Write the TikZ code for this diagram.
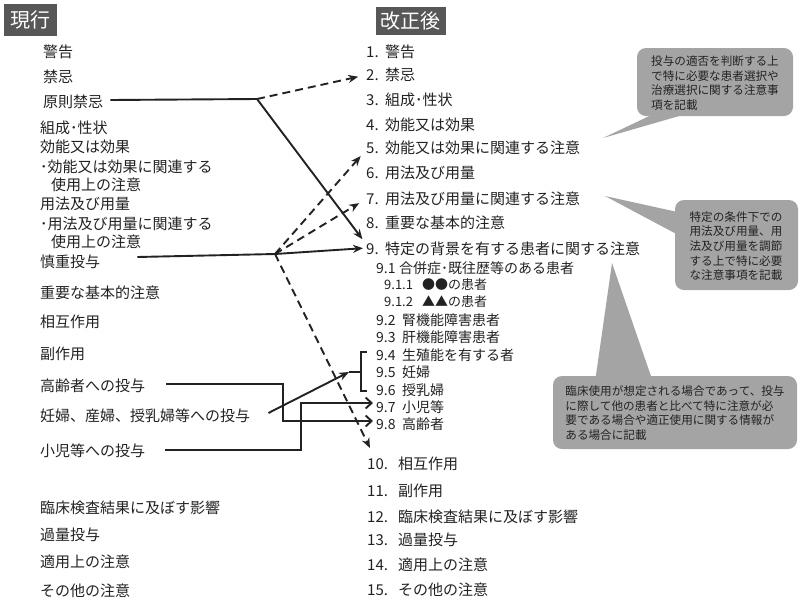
\documentclass[tikz,border=0pt]{standalone}
\usepackage{fontspec}
\setmainfont{Noto Sans CJK JP}
\usetikzlibrary{arrows.meta}
\definecolor{ink}{HTML}{222222}
\definecolor{hdr}{HTML}{575757}
\definecolor{callout}{HTML}{A4A4A4}
\begin{document}
\begin{tikzpicture}[x=1pt,y=-1pt,
  item/.style={anchor=west,inner sep=0pt,text=ink,font=\fontsize{15}{17}\selectfont},
  sub/.style={anchor=west,inner sep=0pt,text=ink,font=\fontsize{14}{16}\selectfont},
  subsub/.style={anchor=west,inner sep=0pt,text=ink,font=\fontsize{13}{15}\selectfont},
  hdrbox/.style={fill=hdr,text=white,font=\fontsize{20}{24}\selectfont,inner sep=0pt},
  conn/.style={line width=1.9pt,draw=ink},
  dconn/.style={conn,dash pattern=on 8pt off 5pt},
  tip/.style={-{Stealth[length=10pt,width=8pt]}},
  barb/.style={-{Straight Barb[length=6pt,width=11pt]}},
  btext/.style={text=ink,align=left,font=\fontsize{11.6}{14.6}\selectfont,inner sep=0pt}
]
\useasboundingbox (0,0) rectangle (800,603);

% headers
\node[hdrbox,minimum width=53pt,minimum height=32pt] (hL) at (30.5,20) {現行};
\node[hdrbox,minimum width=70pt,minimum height=28pt] (hR) at (410.5,21) {改正後};

% left column
\node[item] (L1) at (43,52) {警告};
\node[item] (L2) at (43,77) {禁忌};
\node[item] (L3) at (43,102) {原則禁忌};
\node[item] (L4) at (40,128) {組成･性状};
\node[item] (L5) at (40,147) {効能又は効果};
\node[item] (L6) at (40,167) {･効能又は効果に関連する};
\node[item] (L7) at (51,185) {使用上の注意};
\node[item] (L8) at (40,204) {用法及び用量};
\node[item] (L9) at (40,224) {･用法及び用量に関連する};
\node[item] (L10) at (51,242) {使用上の注意};
\node[item] (L11) at (40,262) {慎重投与};
\node[item] (L12) at (40,293) {重要な基本的注意};
\node[item] (L13) at (40,322) {相互作用};
\node[item] (L14) at (40,354) {副作用};
\node[item] (L15) at (40,386) {高齢者への投与};
\node[item] (L16) at (40,416) {妊婦、産婦、授乳婦等への投与};
\node[item] (L17) at (40,451) {小児等への投与};
\node[item] (L18) at (40,508) {臨床検査結果に及ぼす影響};
\node[item] (L19) at (40,535) {過量投与};
\node[item] (L20) at (40,562) {適用上の注意};
\node[item] (L21) at (40,591) {その他の注意};

% right column
\node[item] (R1) at (366,52) {\makebox[19pt][l]{1.}警告};
\node[item] (R2) at (366,75) {\makebox[19pt][l]{2.}禁忌};
\node[item] (R3) at (366,100) {\makebox[19pt][l]{3.}組成･性状};
\node[item] (R4) at (366,125) {\makebox[19pt][l]{4.}効能又は効果};
\node[item] (R5) at (366,148) {\makebox[19pt][l]{5.}効能又は効果に関連する注意};
\node[item] (R6) at (366,173) {\makebox[19pt][l]{6.}用法及び用量};
\node[item] (R7) at (366,199) {\makebox[19pt][l]{7.}用法及び用量に関連する注意};
\node[item] (R8) at (366,223) {\makebox[19pt][l]{8.}重要な基本的注意};
\node[item] (R9) at (366,249) {\makebox[19pt][l]{9.}特定の背景を有する患者に関する注意};
\node[sub] (S91) at (376,268) {\makebox[23pt][l]{9.1}合併症･既往歴等のある患者};
\node[subsub] (S911) at (384,285) {\makebox[38pt][l]{9.1.1}●●の患者};
\node[subsub] (S912) at (384,302) {\makebox[38pt][l]{9.1.2}▲▲の患者};
\node[sub] (S92) at (376,320) {\makebox[26pt][l]{9.2}腎機能障害患者};
\node[sub] (S93) at (376,337) {\makebox[26pt][l]{9.3}肝機能障害患者};
\node[sub] (S94) at (376,355) {\makebox[26pt][l]{9.4}生殖能を有する者};
\node[sub] (S95) at (376,372) {\makebox[26pt][l]{9.5}妊婦};
\node[sub] (S96) at (376,390) {\makebox[26pt][l]{9.6}授乳婦};
\node[sub] (S97) at (376,407) {\makebox[26pt][l]{9.7}小児等};
\node[sub] (S98) at (376,424) {\makebox[26pt][l]{9.8}高齢者};
\node[item] (R10) at (367,464) {\makebox[31pt][l]{10.}相互作用};
\node[item] (R11) at (367,491) {\makebox[31pt][l]{11.}副作用};
\node[item] (R12) at (367,517) {\makebox[31pt][l]{12.}臨床検査結果に及ぼす影響};
\node[item] (R13) at (367,540) {\makebox[31pt][l]{13.}過量投与};
\node[item] (R14) at (367,565) {\makebox[31pt][l]{14.}適用上の注意};
\node[item] (R15) at (367,590) {\makebox[31pt][l]{15.}その他の注意};

% connectors
\coordinate (b1) at (257,99);
\coordinate (b2) at (275,254);
\coordinate (e10) at (370,448);
\coordinate (c3) at (283,384);
\coordinate (c5) at (301,450);
\coordinate (bm) at (349,372);
\coordinate (bk) at (361,372);

\draw[conn] ([xshift=7pt,yshift=2pt]L3.east) -- (b1);
\draw[dconn,tip,shorten >=8pt] (b1) -- (R2.west);
\draw[conn,tip,shorten >=6pt] (b1) -- ([yshift=5pt]R9.west);

\draw[conn] ([xshift=37pt,yshift=5pt]L11.east) -- (b2);
\draw[conn,tip,shorten >=3pt] (b2) -- ([yshift=1pt]R9.west);
\draw[dconn,tip,shorten >=8pt] (b2) -- ([yshift=-2pt]R5.west);
\draw[dconn,tip,shorten >=8pt] (b2) -- (R7.west);
\draw[dconn,tip] (b2) -- (e10);

\draw[conn,barb,shorten >=3pt] ([xshift=21pt,yshift=2pt]L15.east) -- (c3) |- ([yshift=3pt]S98.west);
\draw[conn,barb,shorten >=3pt] ([xshift=20pt,yshift=1pt]L17.east) -- (c5) |- ([yshift=4pt]S97.west);
\draw[conn,tip] ([xshift=18pt,yshift=3pt]L16.east) -- (bm);
\draw[conn] (bm) -- (bk);
\draw[conn,line width=1.5pt] (367,352) -- (361,352) -- (bk) -- (361,391) -- (367,391);

% callouts
\fill[callout] (662,110) -- (603,138) -- (700,110) -- cycle;
\fill[callout,rounded corners=9pt] (637,48) rectangle (793,116);
\node[btext] (C1) at (715,83) {投与の適否を判断する上\\で特に必要な患者選択や\\治療選択に関する注意事\\項を記載};

\fill[callout] (682,213) -- (605,196) -- (682,237) -- cycle;
\fill[callout,rounded corners=9pt] (675,200) rectangle (798,290);
\node[btext] (C2) at (736,246) {特定の条件下での\\用法及び用量、用\\法及び用量を調節\\する上で特に必要\\な注意事項を記載};

\fill[callout] (595,382) -- (612,263) -- (653,382) -- cycle;
\fill[callout,rounded corners=9pt] (553,376) rectangle (797,449);
\node[btext] (C3) at (675,413) {臨床使用が想定される場合であって、投与\\に際して他の患者と比べて特に注意が必\\要である場合や適正使用に関する情報が\\ある場合に記載};
\end{tikzpicture}
\end{document}
